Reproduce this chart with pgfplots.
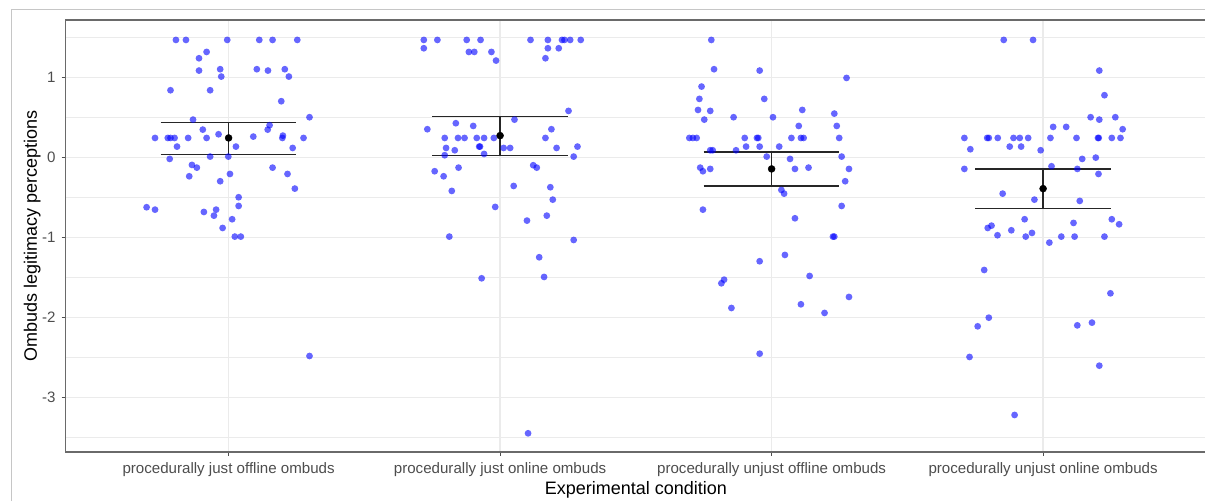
\documentclass[border=0pt]{standalone}
\usepackage{pgfplots}
\usepackage{pgfplotstable}
\pgfplotsset{compat=1.18}
\usepackage{fontspec}
\setmainfont{Liberation Sans}
\definecolor{gridc}{HTML}{EBEBEB}
\definecolor{tickc}{HTML}{4D4D4D}
\definecolor{borderc}{HTML}{6A6A6A}
\definecolor{ptc}{HTML}{0000FF}
\pgfplotstableread{
g dx y
1 -0.194 1.471
1 -0.157 1.471
1 -0.005 1.471
1 0.113 1.471
1 0.162 1.471
1 0.253 1.471
1 -0.081 1.321
1 -0.109 1.242
1 -0.109 1.088
1 -0.031 1.105
1 -0.027 1.013
1 0.104 1.105
1 0.145 1.088
1 0.207 1.105
1 0.222 1.013
1 -0.214 0.842
1 -0.068 0.842
1 0.194 0.705
1 0.298 0.505
1 -0.131 0.475
1 0.151 0.405
1 0.144 0.350
1 -0.095 0.350
1 -0.037 0.292
1 -0.271 0.246
1 -0.224 0.246
1 -0.214 0.246
1 -0.199 0.246
1 -0.149 0.246
1 -0.081 0.246
1 0.091 0.263
1 0.200 0.275
1 0.198 0.246
1 0.276 0.246
1 -0.190 0.138
1 0.027 0.138
1 0.236 0.121
1 -0.217 -0.016
1 -0.068 0.013
1 -0.001 0.013
1 -0.135 -0.091
1 -0.117 -0.125
1 0.162 -0.125
1 -0.145 -0.233
1 0.005 -0.204
1 0.217 -0.204
1 -0.031 -0.295
1 0.244 -0.387
1 0.037 -0.495
1 0.037 -0.604
1 -0.302 -0.620
1 -0.271 -0.650
1 -0.091 -0.679
1 -0.046 -0.650
1 -0.054 -0.725
1 0.013 -0.770
1 -0.022 -0.879
1 0.023 -0.987
1 0.045 -0.987
1 0.298 -2.479
2 -0.281 1.471
2 -0.231 1.471
2 -0.123 1.471
2 -0.072 1.471
2 0.112 1.471
2 0.176 1.471
2 0.228 1.471
2 0.237 1.471
2 0.258 1.471
2 0.297 1.471
2 -0.281 1.367
2 0.176 1.367
2 0.216 1.367
2 -0.115 1.321
2 -0.095 1.321
2 -0.032 1.321
2 0.167 1.242
2 -0.015 1.213
2 0.252 0.584
2 0.053 0.475
2 -0.163 0.430
2 -0.099 0.396
2 -0.268 0.355
2 0.189 0.355
2 -0.204 0.246
2 -0.155 0.246
2 -0.131 0.246
2 -0.086 0.246
2 -0.059 0.246
2 -0.023 0.246
2 0.167 0.246
2 -0.199 0.121
2 -0.077 0.138
2 -0.074 0.138
2 0.013 0.121
2 0.037 0.121
2 0.208 0.121
2 0.285 0.138
2 -0.167 0.092
2 -0.204 0.030
2 -0.059 0.046
2 0.271 0.013
2 0.122 -0.095
2 0.135 -0.125
2 -0.153 -0.125
2 -0.241 -0.170
2 -0.208 -0.233
2 0.050 -0.354
2 0.185 -0.370
2 -0.178 -0.416
2 0.194 -0.525
2 -0.018 -0.616
2 0.172 -0.725
2 0.099 -0.787
2 -0.187 -0.987
2 0.271 -1.029
2 0.144 -1.245
2 -0.068 -1.508
2 0.162 -1.491
2 0.103 -3.445
3 -0.222 1.471
3 -0.212 1.105
3 -0.044 1.088
3 0.276 0.996
3 -0.258 0.888
3 -0.266 0.734
3 -0.027 0.734
3 -0.271 0.596
3 -0.226 0.584
3 0.113 0.596
3 0.231 0.550
3 -0.248 0.475
3 -0.140 0.505
3 0.005 0.505
3 0.100 0.396
3 0.240 0.396
3 -0.303 0.246
3 -0.290 0.246
3 -0.276 0.246
3 -0.099 0.246
3 -0.054 0.246
3 -0.049 0.246
3 0.073 0.246
3 0.108 0.246
3 0.118 0.246
3 0.249 0.246
3 -0.226 0.092
3 -0.217 0.092
3 -0.131 0.092
3 -0.094 0.138
3 -0.044 0.138
3 0.028 0.138
3 -0.018 0.013
3 0.068 -0.016
3 0.258 0.013
3 -0.263 -0.125
3 -0.253 -0.170
3 -0.226 -0.141
3 0.086 -0.141
3 0.136 -0.125
3 0.285 -0.141
3 0.271 -0.295
3 0.036 -0.404
3 0.046 -0.450
3 0.258 -0.604
3 -0.253 -0.650
3 0.086 -0.758
3 0.226 -0.987
3 0.231 -0.987
3 0.049 -1.216
3 -0.044 -1.295
3 0.140 -1.479
3 -0.175 -1.525
3 -0.185 -1.570
3 0.285 -1.741
3 0.108 -1.833
3 -0.148 -1.879
3 0.195 -1.941
3 -0.044 -2.450
4 -0.145 1.471
4 -0.037 1.471
4 0.207 1.088
4 0.226 0.780
4 0.175 0.505
4 0.207 0.475
4 0.266 0.505
4 0.037 0.384
4 0.085 0.384
4 0.293 0.355
4 -0.290 0.246
4 -0.206 0.246
4 -0.200 0.246
4 -0.167 0.246
4 -0.109 0.246
4 -0.086 0.246
4 -0.055 0.246
4 0.027 0.246
4 0.123 0.246
4 0.202 0.246
4 0.205 0.246
4 0.253 0.246
4 0.285 0.246
4 -0.268 0.105
4 -0.123 0.138
4 -0.081 0.138
4 -0.009 0.092
4 0.144 -0.016
4 0.194 0.000
4 -0.290 -0.141
4 0.031 -0.108
4 0.126 -0.141
4 0.204 -0.204
4 -0.149 -0.450
4 -0.032 -0.525
4 0.135 -0.541
4 -0.068 -0.770
4 0.112 -0.816
4 0.253 -0.770
4 0.280 -0.833
4 -0.204 -0.879
4 -0.190 -0.850
4 -0.117 -0.908
4 -0.041 -0.941
4 -0.168 -0.970
4 -0.064 -0.987
4 0.067 -0.987
4 0.116 -0.987
4 0.226 -0.987
4 0.023 -1.062
4 -0.217 -1.404
4 0.248 -1.696
4 -0.200 -2.000
4 -0.241 -2.108
4 0.126 -2.096
4 0.180 -2.062
4 -0.271 -2.491
4 0.207 -2.600
4 -0.105 -3.216
}\pts
\begin{document}
\begin{tikzpicture}
\path[use as bounding box] (0,0) rectangle (1205pt,501pt);
\begin{axis}[
  at={(65.7pt,49.3pt)}, anchor=south west,
  scale only axis, width=1140.3pt, height=431.7pt,
  xmin=0.4, xmax=4.6, ymin=-3.675, ymax=1.72,
  xtick={1,2,3,4},
  xticklabels={procedurally just offline ombuds, procedurally just online ombuds, procedurally unjust offline ombuds, procedurally unjust online ombuds},
  ytick={-3,-2,-1,0,1},
  yticklabels={-3,-2,-1,0,1},
  minor ytick={-3.5,-2.5,-1.5,-0.5,0.5,1.5},
  xmajorgrids, ymajorgrids, yminorgrids,
  major grid style={draw=gridc, line width=1.4pt},
  minor grid style={draw=gridc, line width=0.8pt},
  axis line style={draw=borderc, line width=1.6pt},
  tick align=outside, tick pos=left,
  major tick length=4pt, minor tick length=0pt,
  tick style={draw=tickc, line width=1.2pt},
  minor tick style={draw=none},
  ticklabel style={font=\fontsize{15.1}{18}\selectfont, text=tickc},
  xticklabel style={inner sep=0pt, anchor=base, yshift=-18pt},
  yticklabel style={inner sep=0pt, anchor=east, xshift=-6pt},
  xlabel={Experimental condition},
  ylabel={Ombuds legitimacy perceptions},
  every axis x label/.style={at={(axis description cs:0.5,-0.098)}, anchor=base, font=\fontsize{18}{21}\selectfont},
  every axis y label/.style={at={(axis description cs:-0.0252,0.5)}, anchor=base, rotate=90, font=\fontsize{18}{21}\selectfont},
]
\addplot[only marks, mark=*, mark size=3.4pt, color=ptc, mark options={draw opacity=0, fill=ptc, fill opacity=0.6}]
  table[x expr=\thisrow{g}+\thisrow{dx}, y=y]{\pts};
% error bars
\addplot[black!85, line width=1.3pt] coordinates {(0.75,0.4425) (1.25,0.4425)};
\addplot[black!85, line width=1.3pt] coordinates {(0.75,0.0425) (1.25,0.0425)};
\addplot[black!85, line width=1.3pt] coordinates {(1,0.0425) (1,0.4425)};
\addplot[black!85, line width=1.3pt] coordinates {(1.75,0.5175) (2.25,0.5175)};
\addplot[black!85, line width=1.3pt] coordinates {(1.75,0.030) (2.25,0.030)};
\addplot[black!85, line width=1.3pt] coordinates {(2,0.030) (2,0.5175)};
\addplot[black!85, line width=1.3pt] coordinates {(2.75,0.071) (3.25,0.071)};
\addplot[black!85, line width=1.3pt] coordinates {(2.75,-0.354) (3.25,-0.354)};
\addplot[black!85, line width=1.3pt] coordinates {(3,-0.354) (3,0.071)};
\addplot[black!85, line width=1.3pt] coordinates {(3.75,-0.141) (4.25,-0.141)};
\addplot[black!85, line width=1.3pt] coordinates {(3.75,-0.633) (4.25,-0.633)};
\addplot[black!85, line width=1.3pt] coordinates {(4,-0.633) (4,-0.141)};
\addplot[only marks, mark=*, mark size=3.5pt, black] coordinates {(1,0.246) (2,0.275) (3,-0.141) (4,-0.3875)};
\end{axis}
\draw[color=gray!45, line width=1pt] (11pt,0pt) -- (11pt,491pt) -- (1205pt,491pt);
\end{tikzpicture}
\end{document}
